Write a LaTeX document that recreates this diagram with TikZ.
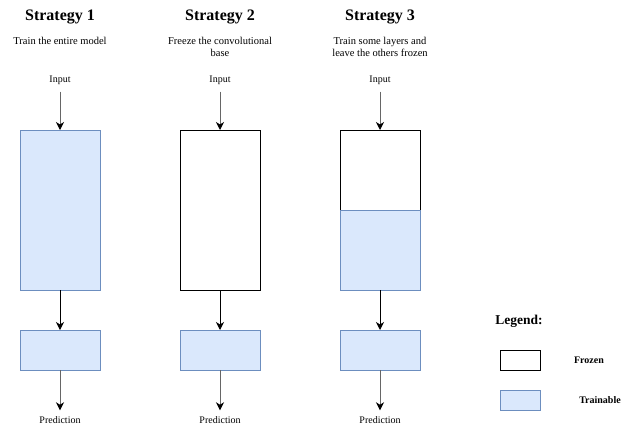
\documentclass[tikz,border=0pt]{standalone}
\usepackage{fontspec}
\setmainfont{Liberation Serif}
\usetikzlibrary{arrows.meta}
\definecolor{tfill}{HTML}{DAE8FC}
\definecolor{tline}{HTML}{6C8EBF}
\definecolor{gline}{HTML}{666666}
\begin{document}
\begin{tikzpicture}[x=1pt,y=-1pt,
  frozen/.style={draw=black,fill=white,line width=0.9pt,minimum width=80pt,inner sep=0pt,outer sep=0pt},
  trainable/.style={draw=tline,fill=tfill,line width=0.9pt,minimum width=80pt,inner sep=0pt,outer sep=0pt},
  title/.style={font=\fontsize{16}{18}\selectfont\bfseries,inner sep=0pt},
  sub/.style={font=\fontsize{10.5}{12}\selectfont,align=center,inner sep=0pt},
  lbl/.style={font=\fontsize{10}{11}\selectfont,inner sep=0pt},
  arr/.style={-{Stealth[length=8pt,width=8pt,inset=2.5pt]},line width=1pt},
  garr/.style={line width=1pt,draw=gline,-{Stealth[length=8pt,width=8pt,inset=2.5pt,color=black]}},
  legtxt/.style={font=\fontsize{10}{11}\selectfont\bfseries,inner sep=0pt}
]
\useasboundingbox (0,0) rectangle (631,431);
% titles
\node[title] (t1) at (60,17) {Strategy 1};
\node[title] (t2) at (220,17) {Strategy 2};
\node[title] (t3) at (380,17) {Strategy 3};
\node[sub] (s1) at (60,41) {Train the entire model};
\node[sub] (s2) at (220,47) {Freeze the convolutional\\base};
\node[sub] (s3) at (380,47) {Train some layers and\\leave the others frozen};
% inputs
\node[lbl] (i1) at (60,80) {Input};
\node[lbl] (i2) at (220,80) {Input};
\node[lbl] (i3) at (380,80) {Input};
% big boxes
\node[trainable,minimum height=160pt] (b1) at (60,210) {};
\node[frozen,minimum height=160pt] (b2) at (220,210) {};
\node[frozen,minimum height=80pt] (b3a) at (380,170) {};
\node[trainable,minimum height=80pt] (b3b) at (380,250) {};
% small boxes
\node[trainable,minimum height=40pt] (c1) at (60,350) {};
\node[trainable,minimum height=40pt] (c2) at (220,350) {};
\node[trainable,minimum height=40pt] (c3) at (380,350) {};
% predictions
\node[lbl] (p1) at (60,420) {Prediction};
\node[lbl] (p2) at (220,420) {Prediction};
\node[lbl] (p3) at (380,420) {Prediction};
% arrows
\foreach \i/\b in {1/b1,2/b2,3/b3a}{
  \draw[garr] ([yshift=-7pt]i\i.south) -- (\b.north);
}
\draw[arr] (b1.south) -- (c1.north);
\draw[arr] (b2.south) -- (c2.north);
\draw[arr] (b3b.south) -- (c3.north);
\foreach \i in {1,2,3}{
  \draw[garr] (c\i.south) -- ([yshift=6pt]p\i.north);
}
% legend
\node[font=\fontsize{13.5}{15}\selectfont\bfseries,inner sep=0pt] (leg) at (519,321) {Legend:};
\node[frozen,minimum width=40pt,minimum height=20pt] (lf) at (520,360) {};
\node[trainable,minimum width=40pt,minimum height=20pt] (lt) at (520,400) {};
\node[legtxt] (lft) at (589,360) {Frozen};
\node[legtxt] (ltt) at (600,400) {Trainable};
\end{tikzpicture}
\end{document}
